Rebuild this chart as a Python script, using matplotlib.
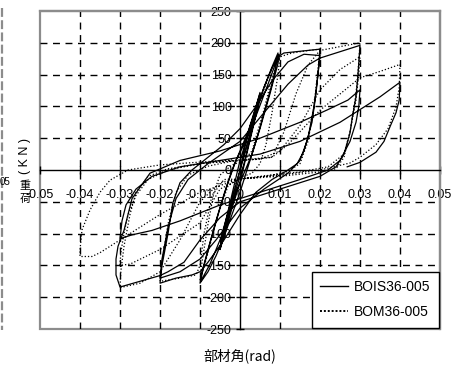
import matplotlib
matplotlib.use("Agg")
import matplotlib.pyplot as plt
from matplotlib.lines import Line2D
from matplotlib.patches import Rectangle

# ---------------- data ----------------
x_ticks = [-0.05, -0.04, -0.03, -0.02, -0.01, 0.0, 0.01, 0.02, 0.03, 0.04, 0.05]
x_tick_labels = ["-0.05", "-0.04", "-0.03", "-0.02", "-0.01", "0", "0.01", "0.02", "0.03", "0.04", "0.05"]
y_ticks = [-250, -200, -150, -100, -50, 0, 50, 100, 150, 200, 250]
y_tick_labels = ["-250", "-200", "-150", "-100", "-50", "0", "50", "100", "150", "200", "250"]
series_names = ["BOIS36-005", "BOM36-005"]

# BOIS36-005 (solid)
bois_x = [0, 0.001, 0.0025, 0.004, 0.005,
          0.0045, 0.003, 0.0015, 0, -0.002, -0.004, -0.005,
          -0.0045, -0.003, -0.0015, 0, 0.002, 0.004, 0.005,
          0.0045, 0.0025, 0.001, -0.001, -0.003, -0.005, -0.0045, -0.002, 0,
          0.002, 0.004, 0.006, 0.008, 0.0095,
          0.0092, 0.008, 0.006, 0.004, 0.002, 0, -0.002, -0.004, -0.006, -0.008, -0.01,
          -0.0097, -0.008, -0.006, -0.004, -0.002, 0, 0.002, 0.004, 0.006, 0.008, 0.0098,
          0.0094, 0.0075, 0.005, 0.003, 0.001, -0.001, -0.003, -0.005, -0.0075, -0.0098,
          -0.0094, -0.0075, -0.005, -0.003, -0.001, 0.001, 0.004, 0.007, 0.0095, 0.011, 0.014, 0.017, 0.02,
          0.0197, 0.019, 0.018, 0.016, 0.0143, 0.012, 0.008, 0.004, 0, -0.004, -0.008, -0.01, -0.012, -0.016, -0.02,
          -0.0195, -0.018, -0.0168, -0.015, -0.012, -0.008, -0.004, 0, 0.004, 0.008, 0.012, 0.016, 0.02,
          0.0195, 0.0185, 0.017, 0.015, 0.012, 0.006, 0, -0.006, -0.01, -0.015, -0.02,
          -0.0195, -0.018, -0.016, -0.013, -0.008, 0, 0.006, 0.012, 0.017, 0.02, 0.025, 0.03,
          0.0295, 0.029, 0.028, 0.0275, 0.026, 0.024, 0.02, 0.01, 0, -0.005, -0.01, -0.014, -0.018, -0.02, -0.025, -0.03,
          -0.031, -0.031, -0.0305, -0.029, -0.027, -0.0225, -0.015, -0.005, 0.005, 0.015, 0.022, 0.027, 0.03,
          0.0297, 0.029, 0.0275, 0.025, 0.022, 0.015, 0.005, -0.005, -0.015, -0.022, -0.027, -0.03,
          -0.0295, -0.0285, -0.026, -0.022, -0.015, -0.005, 0.005, 0.015, 0.025, 0.03, 0.035, 0.04,
          0.0398, 0.039, 0.0375, 0.036, 0.034, 0.03, 0.0268]
bois_y = [0, 30, 70, 100, 120,
          100, 60, 20, -20, -60, -105, -125,
          -105, -65, -25, 15, 55, 100, 122,
          100, 50, 10, -30, -75, -125, -100, -45, 0,
          45, 90, 130, 162, 184,
          170, 135, 90, 45, 5, -35, -70, -105, -135, -160, -178,
          -165, -125, -80, -38, 0, 30, 60, 95, 130, 160, 182,
          165, 120, 65, 25, -5, -35, -75, -110, -148, -175,
          -160, -115, -60, -20, 15, 40, 85, 135, 178, 184, 186, 188, 190,
          165, 120, 75, 30, 10, 0, -15, -35, -70, -110, -145, -160, -165, -170, -178,
          -150, -100, -52, -20, 0, 20, 40, 65, 100, 140, 170, 182, 180,
          150, 100, 50, 15, -5, -30, -60, -110, -140, -160, -170,
          -140, -90, -45, -15, 10, 45, 90, 135, 165, 176, 186, 196,
          150, 115, 80, 58, 25, 5, -10, -30, -50, -75, -110, -145, -160, -166, -175, -184,
          -165, -140, -120, -95, -45, -5, 15, 30, 50, 75, 95, 110, 126,
          100, 75, 45, 15, 0, -15, -35, -55, -80, -95, -102, -108,
          -80, -55, -30, -10, 5, 15, 25, 45, 75, 95, 115, 138,
          110, 90, 68, 45, 28, 12, 5]

# BOM36-005 (dotted)
bom_x = [0, 0.002, 0.004, 0.005, 0.004, 0.002, 0, -0.002, -0.004, -0.005, -0.004, -0.002, 0,
         0.002, 0.005, 0.008, 0.01,
         0.0095, 0.008, 0.0065, 0.005, 0.003, 0, -0.003, -0.006, -0.008, -0.01,
         -0.0095, -0.008, -0.0065, -0.005, -0.002, 0.001, 0.003, 0.006, 0.008, 0.01,
         0.013, 0.016, 0.02,
         0.0195, 0.0185, 0.017, 0.015, 0.012, 0.008, 0.004, 0, -0.004, -0.007, -0.009, -0.01, -0.011, -0.015, -0.02,
         -0.0195, -0.018, -0.016, -0.013, -0.008, -0.002, 0.004, 0.008, 0.011, 0.014, 0.017, 0.02, 0.025, 0.03,
         0.0297, 0.029, 0.0275, 0.026, 0.024, 0.02, 0.01, 0, -0.005, -0.01, -0.015, -0.02, -0.025, -0.03,
         -0.0298, -0.029, -0.0275, -0.026, -0.023, -0.018, -0.01, 0, 0.005, 0.01, 0.015, 0.02, 0.025, 0.03,
         0.0297, 0.029, 0.0275, 0.026, 0.022, 0.015, 0.005, 0, -0.005, -0.01, -0.02, -0.0275, -0.03,
         -0.0298, -0.029, -0.028, -0.026, -0.023, -0.018, -0.01, 0, 0.008, 0.012, 0.02, 0.03, 0.035, 0.04,
         0.0398, 0.039, 0.037, 0.034, 0.03, 0.0275, 0.02, 0.01, 0, -0.01, -0.02, -0.03, -0.035, -0.037, -0.04,
         -0.04, -0.0395, -0.0375, -0.035, -0.0325, -0.028, -0.02, -0.002]
bom_y = [0, 45, 95, 118, 95, 45, 0, -45, -95, -120, -95, -45, 0,
         45, 110, 160, 180,
         150, 90, 40, 10, -5, -12, -25, -80, -130, -175,
         -145, -85, -35, -8, 8, 15, 30, 95, 145, 178,
         184, 187, 190,
         160, 100, 45, 10, -2, -8, -12, -14, -15, -40, -100, -150, -165, -170, -175,
         -145, -85, -35, -8, 6, 14, 17, 20, 60, 120, 165, 188, 194, 200,
         170, 120, 60, 20, 2, -3, -10, -14, -20, -50, -110, -160, -178, -185,
         -160, -120, -70, -35, -10, 2, 10, 15, 17, 30, 70, 126, 158, 178,
         150, 110, 60, 25, 5, -3, -10, -14, -30, -83, -125, -148, -150,
         -130, -100, -70, -40, -15, 0, 10, 16, 20, 40, 94, 145, 155, 166,
         130, 99, 65, 40, 20, 11, 0, -8, -14, -35, -70, -110, -130, -136, -136,
         -126, -94, -63, -35, -16, 0, 8, 16]

# ---------------- figure ----------------
plt.rcParams['font.family'] = ['Liberation Sans', 'DejaVu Sans']

fig = plt.figure(figsize=(4.62, 3.68), dpi=100)
ax = fig.add_axes([40 / 462, 1 - 329 / 368, 400 / 462, 318 / 368])
ax.set_xlim(-0.05, 0.05)
ax.set_ylim(-250, 250)

# grid
for xv in x_ticks[1:-1]:
    if xv != 0:
        ax.axvline(xv, color='black', lw=1.0, ls=(0, (5, 4)), zorder=1)
for yv in y_ticks[1:-1]:
    if yv != 0:
        ax.axhline(yv, color='black', lw=1.0, ls=(0, (5, 4)), zorder=1)

# frame in gray
for s in ['top', 'right']:
    ax.spines[s].set_color('#8c8c8c')
    ax.spines[s].set_linewidth(1.6)
ax.add_patch(Rectangle((0, 0), 1, 1, transform=ax.transAxes, fill=False,
                       edgecolor='#8c8c8c', lw=1.6, zorder=0.5, clip_on=False))

# axes through origin
ax.spines['left'].set_position('zero')
ax.spines['bottom'].set_position('zero')
ax.spines['left'].set_color('black')
ax.spines['bottom'].set_color('black')
ax.spines['left'].set_linewidth(1.0)
ax.spines['bottom'].set_linewidth(1.0)

ax.set_xticks(x_ticks)
ax.set_xticklabels(x_tick_labels)
ax.set_yticks(y_ticks)
ax.set_yticklabels(y_tick_labels)
ax.tick_params(axis='x', direction='inout', length=6, width=1, pad=11, labelsize=9)
ax.tick_params(axis='y', direction='inout', length=6, width=1, pad=3, labelsize=9)

ax.plot(bois_x, bois_y, color='black', lw=0.9, zorder=3, label=series_names[0])
ax.plot(bom_x, bom_y, color='black', lw=0.9, ls=(0, (1, 1.6)), zorder=3, label=series_names[1])

leg = ax.legend(handles=[Line2D([], [], color='black', lw=1.0),
                         Line2D([], [], color='black', lw=1.4, ls=(0, (1, 1)))],
                labels=series_names, loc='lower right', bbox_to_anchor=(1.0, 0.0),
                frameon=True, fancybox=False, framealpha=1, edgecolor='black',
                fontsize=10, handlelength=2.0, handletextpad=0.4, borderpad=0.6,
                labelspacing=0.8, borderaxespad=0.1)
leg.get_frame().set_linewidth(1.0)
leg.set_zorder(5)

# axis labels
fig.text(240 / 462, 1 - 356 / 368, "部材角(rad)", ha='center', va='center', fontsize=10,
         family=['Noto Sans CJK JP', 'DejaVu Sans'])
fig.text(25 / 462, 1 - 156 / 368, "( K N )", ha='center', va='center', rotation=90, fontsize=9)
fig.text(25 / 462, 1 - 186 / 368, "重", ha='center', va='center', fontsize=8,
         family=['Noto Sans CJK JP', 'DejaVu Sans'])
fig.text(25 / 462, 1 - 199 / 368, "荷", ha='center', va='center', fontsize=8,
         family=['Noto Sans CJK JP', 'DejaVu Sans'])

# fragment of neighbouring chart at the left edge
fig.add_artist(Line2D([1.5 / 462, 1.5 / 462], [1 - 8 / 368, 1 - 330 / 368], color='#8c8c8c',
                      lw=1.6, ls=(0, (4, 1.5)), transform=fig.transFigure))
fig.text(10 / 462, 1 - 182 / 368, "05", ha='right', va='center', fontsize=7)

fig.savefig("out.png", dpi=100)
